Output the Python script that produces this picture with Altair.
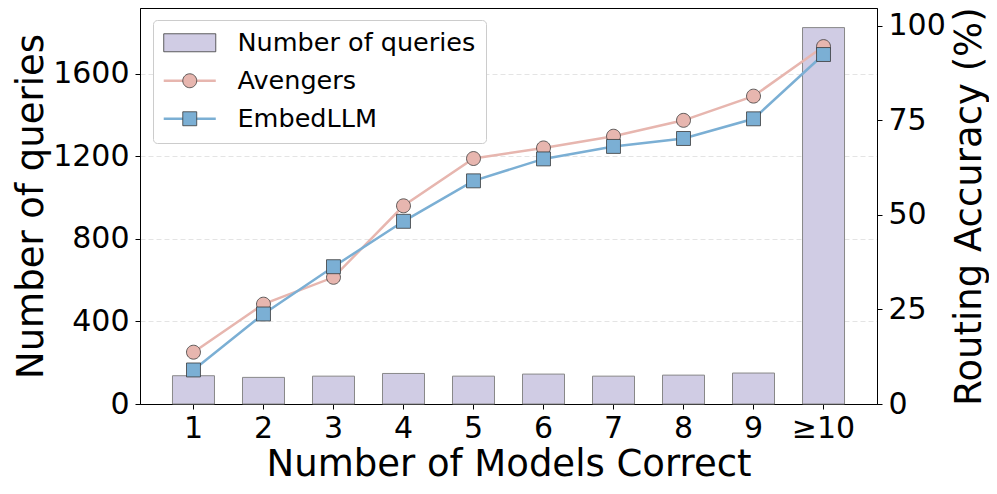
import altair as alt
import pandas as pd

categories = ["1", "2", "3", "4", "5", "6", "7", "8", "9", "≥10"]
query_counts = [137, 129, 135, 148, 135, 145, 135, 140, 150, 1824]
avengers_acc = [13.7, 26.4, 33.5, 52.4, 64.9, 67.7, 70.8, 75.0, 81.4, 94.5]
embedllm_acc = [9.0, 23.8, 36.3, 48.3, 59.0, 64.8, 68.1, 70.2, 75.4, 92.4]
series_names = ["Number of queries", "Avengers", "EmbedLLM"]
line_names = ["Number of queries ", "Avengers", "EmbedLLM"]
left_ticks = [0, 400, 800, 1200, 1600]
right_ticks = [0, 25, 50, 75, 100]

BAR = "#d0cce4"
PINK = "#e7b6af"
BLUE = "#7bafd4"
FONT = "DejaVu Sans"

RECT_PATH = "M-3.47,-1.2H3.47V1.2H-3.47Z"
CIRCLE_PATH = "M-0.93,0A0.93,0.93 0 1,0 0.93,0A0.93,0.93 0 1,0 -0.93,0Z"
SQUARE_PATH = "M-0.93,-0.93H0.93V0.93H-0.93Z"
LINE_PATH = "M-3.47,0H3.47"

bars_df = pd.DataFrame({"cat": categories, "count": query_counts})
acc_df = pd.DataFrame({
    "cat": categories + categories,
    "acc": avengers_acc + embedllm_acc,
    "series": ["Avengers"] * len(categories) + ["EmbedLLM"] * len(categories),
})
acc_df["method"] = acc_df["series"]

xscale = alt.Scale(type="band", paddingInner=0.4, paddingOuter=0.464)
xaxis = alt.Axis(title="Number of Models Correct", labelAngle=0, labelFontSize=30,
                 titleFontSize=37, titleFontWeight="normal", tickSize=5,
                 labelPadding=4, titlePadding=3, labelColor="black", titleColor="black",
                 tickColor="black", domainColor="black")
x_enc = alt.X("cat:N", sort=categories, scale=xscale, axis=xaxis)

common_leg = dict(title=None, orient="none", legendX=13, legendY=12, symbolSize=225,
                  symbolOffset=14, labelOffset=35, labelFontSize=25.5, labelLimit=400,
                  rowPadding=11, padding=10, labelFont=FONT)

leg_lines = alt.Legend(symbolType=LINE_PATH, symbolStrokeWidth=2.5, fillColor="white",
                       strokeColor="#cccccc", cornerRadius=4, zindex=1, labelColor="black",
                       **common_leg)
leg_points = alt.Legend(labelOpacity=0, zindex=2, symbolStrokeWidth=0.8, **common_leg)

bars = alt.Chart(bars_df).mark_bar(color=BAR, stroke="#888888", strokeWidth=1).encode(
    x=x_enc,
    y=alt.Y("count:Q", scale=alt.Scale(domain=[0, 1919], nice=False, zero=True),
            axis=alt.Axis(values=left_ticks, format="d", title="Number of queries",
                          titleFontSize=37, labelFontSize=30, titleFontWeight="normal",
                          grid=True, gridDash=[5, 3], gridColor="#dddddd", gridWidth=0.8,
                          tickSize=5, labelPadding=6, titlePadding=2, labelColor="black",
                          titleColor="black", tickColor="black", domainColor="black")),
)

y_acc_scale = alt.Scale(domain=[0, 104.7], nice=False, zero=True)
right_axis = alt.Axis(orient="right", values=right_ticks, title="Routing Accuracy (%)",
                      titleFontSize=37, labelFontSize=30, titleFontWeight="normal",
                      grid=False, tickSize=5, labelPadding=6, titlePadding=6,
                      titleAngle=270, titleBaseline="top", labelColor="black",
                      titleColor="black", tickColor="black", domainColor="black")

lines = alt.Chart(acc_df).mark_line(strokeWidth=2.5).encode(
    x=x_enc,
    y=alt.Y("acc:Q", scale=y_acc_scale, axis=right_axis),
    stroke=alt.Stroke("method:N", scale=alt.Scale(domain=line_names,
                      range=["rgba(0,0,0,0)", PINK, BLUE]), legend=leg_lines),
)

points = alt.Chart(acc_df).mark_point(filled=True, size=225, opacity=1, stroke="#3a3a3a",
                                      strokeWidth=0.8).encode(
    x=x_enc,
    y=alt.Y("acc:Q", scale=y_acc_scale, axis=right_axis),
    color=alt.Color("series:N", scale=alt.Scale(domain=series_names, range=[BAR, PINK, BLUE]),
                    legend=leg_points),
    shape=alt.Shape("series:N", scale=alt.Scale(domain=series_names,
                    range=[RECT_PATH, CIRCLE_PATH, SQUARE_PATH]), legend=leg_points),
)

chart = alt.layer(bars, alt.layer(lines, points)).resolve_scale(y="independent").properties(
    width=737, height=396,
    autosize=alt.AutoSizeParams(type="none"),
    padding={"left": 132, "top": 0, "right": 112, "bottom": 82},
).configure_axis(labelFont=FONT, titleFont=FONT).configure_legend(labelFont=FONT).configure_view(
    stroke="black", strokeWidth=1)

chart.save("out.html", embed_options={"renderer": "svg", "actions": False})
